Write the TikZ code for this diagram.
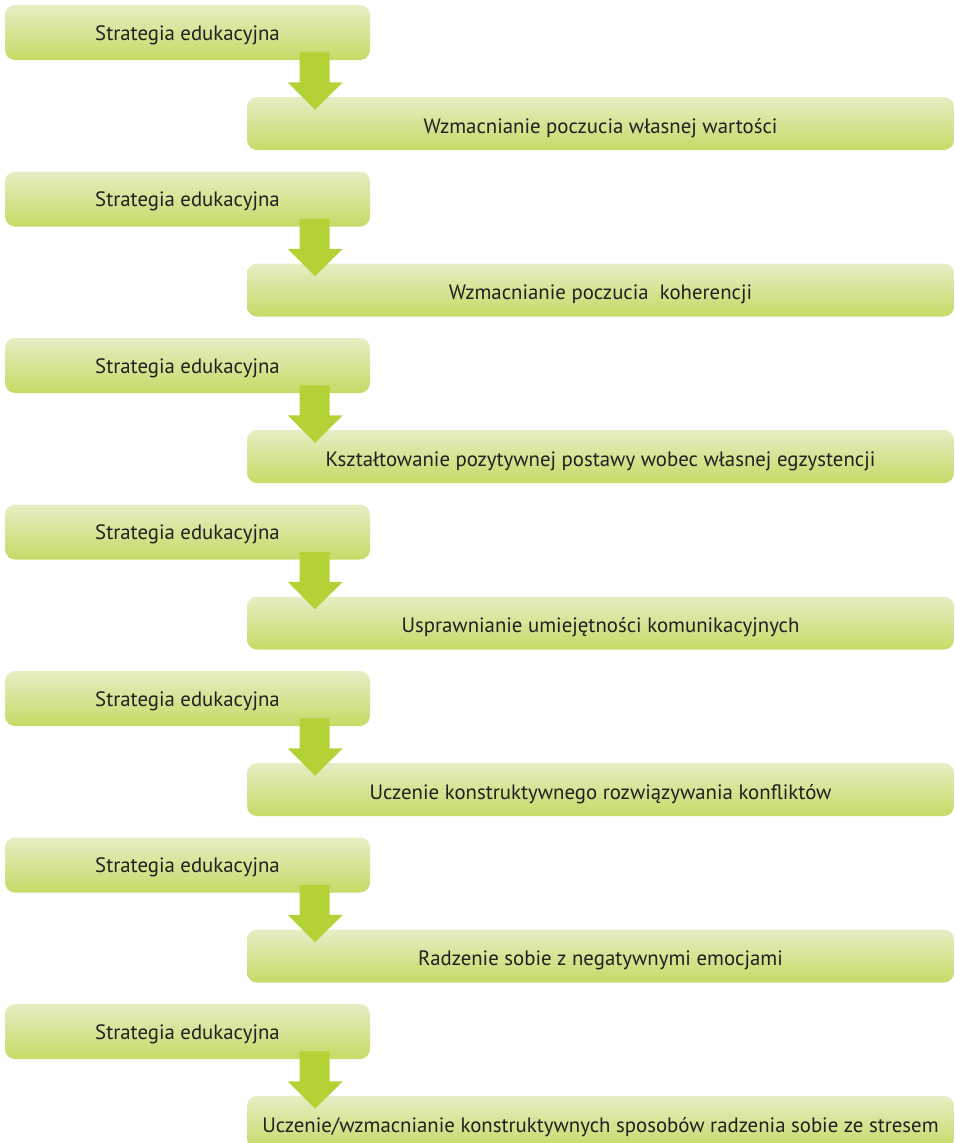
\documentclass[tikz,border=0pt]{standalone}
\usepackage{fontspec}
\setmainfont{PT Sans}
\usetikzlibrary{calc}
\definecolor{boxtop}{HTML}{E6EEC4}
\definecolor{boxbot}{HTML}{C4DB66}
\definecolor{arr}{HTML}{B2D235}
\definecolor{txt}{HTML}{231F20}
\tikzset{
 box/.style={rounded corners=7.5pt, top color=boxtop, bottom color=boxbot, draw=none, inner sep=0pt, text=txt, font=\fontsize{15.6}{18}\selectfont},
 lbox/.style={box, minimum width=273.75pt, minimum height=41.25pt, text height=14.25pt, text depth=3pt},
 rbox/.style={box, minimum width=530.25pt, minimum height=39.75pt, text height=17.25pt, text depth=3pt},
 arrowshape/.style={fill=arr, draw=none}
}
\begin{document}
\begin{tikzpicture}[x=0.75pt,y=-0.75pt]
\useasboundingbox (0,0) rectangle (954,1143);
\foreach \t [count=\i from 0] in {
 {Wzmacnianie poczucia własnej wartości},
 {Wzmacnianie poczucia\ \ koherencji},
 {Kształtowanie pozytywnej postawy wobec własnej egzystencji},
 {Usprawnianie umiejętności komunikacyjnych},
 {Uczenie konstruktywnego rozwiązywania konfliktów},
 {Radzenie sobie z negatywnymi emocjami},
 {Uczenie/wzmacnianie konstruktywnych sposobów radzenia sobie ze stresem}} {
 \pgfmathsetmacro\yo{5+166.5*\i}
 \node[lbox] (L\i) at (187.5, \yo+27.5) {Strategia edukacyjna};
 \node[rbox] (R\i) at (600.5, \yo+118.5) {\t};
 \fill[arrowshape] ($(L\i.south west)+(295,-8)$) -- ($(L\i.south west)+(325,-8)$)
   -- ($(L\i.south west)+(325,22)$) -- ($(L\i.south west)+(338,22)$)
   -- ($(R\i.north west)+(68.5,13)$) -- ($(L\i.south west)+(283,22)$)
   -- ($(L\i.south west)+(295,22)$) -- cycle;
}
\end{tikzpicture}
\end{document}
